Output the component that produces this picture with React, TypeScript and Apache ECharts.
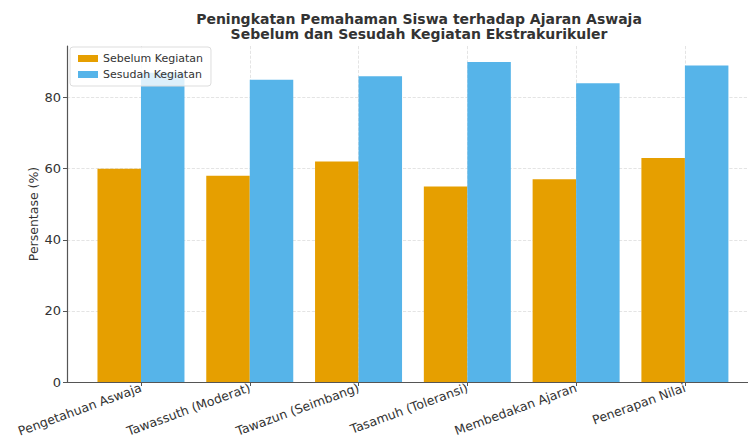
import React, { useEffect, useRef } from "react";
import * as echarts from "echarts";

const categories = [
  "Pengetahuan Aswaja",
  "Tawassuth (Moderat)",
  "Tawazun (Seimbang)",
  "Tasamuh (Toleransi)",
  "Membedakan Ajaran",
  "Penerapan Nilai",
];
const sebelum = [60, 58, 62, 55, 57, 63];
const sesudah = [87, 85, 86, 90, 84, 89];
const yTicks = [0, 20, 40, 60, 80];

const FONT = "DejaVu Sans";

export default function App() {
  const ref = useRef<HTMLDivElement>(null);
  useEffect(() => {
    if (!ref.current) return;
    const chart = echarts.init(ref.current, undefined, { renderer: "svg" });
    const idx = categories.map((_, i) => i);
    chart.setOption({
      animation: false,
      textStyle: { fontFamily: FONT },
      title: {
        text: "Peningkatan Pemahaman Siswa terhadap Ajaran Aswaja\nSebelum dan Sesudah Kegiatan Ekstrakurikuler",
        left: 414,
        top: 6,
        textAlign: "center",
        textStyle: { fontFamily: FONT, fontSize: 14, fontWeight: "bold", color: "#333", lineHeight: 15 },
      },
      legend: {
        orient: "vertical",
        left: 70,
        top: 47,
        padding: [6, 8],
        itemGap: 5,
        itemWidth: 20,
        itemHeight: 7,
        backgroundColor: "rgba(255,255,255,0.8)",
        borderColor: "#ddd",
        borderWidth: 1,
        borderRadius: 3,
        textStyle: { fontFamily: FONT, fontSize: 11, color: "#333" },
        data: [
          { name: "Sebelum Kegiatan", icon: "rect" },
          { name: "Sesudah Kegiatan", icon: "rect" },
        ],
      },
      grid: { left: 67, top: 46, bottom: 56, right: 0, containLabel: false, outerBoundsMode: "none" },
      xAxis: {
        type: "value",
        min: -0.68,
        max: 5.58,
        axisLine: { show: true, onZero: false, lineStyle: { color: "#555", width: 1.2 } },
        axisTick: { show: true, customValues: idx, length: 4, lineStyle: { color: "#555" } },
        axisLabel: {
          customValues: idx,
          rotate: 20,
          margin: 5,
          fontFamily: FONT,
          fontSize: 12.5,
          color: "#333",
          formatter: (v: number) => categories[Math.round(v)] ?? "",
        },
        splitLine: { show: true, lineStyle: { color: "#ddd", type: "dashed", width: 0.8 } },
      },
      yAxis: {
        type: "value",
        min: 0,
        max: 94.5,
        interval: 20,
        name: "Persentase (%)",
        nameLocation: "middle",
        nameGap: 27,
        nameMoveOverlap: false,
        nameRotate: 90,
        nameTextStyle: { fontFamily: FONT, fontSize: 12.5, color: "#333" },
        axisLine: { show: true, onZero: false, lineStyle: { color: "#555", width: 1.2 } },
        axisTick: { show: true, customValues: yTicks, length: 4, lineStyle: { color: "#555" } },
        axisLabel: { customValues: yTicks, fontFamily: FONT, fontSize: 13, color: "#333", margin: 6 },
        splitLine: { show: true, lineStyle: { color: "#ddd", type: "dashed", width: 0.8 } },
      },
      series: [
        {
          name: "Sebelum Kegiatan",
          type: "bar",
          barWidth: 43.5,
          barGap: "0%",
          itemStyle: { color: "#E69F00" },
          data: sebelum.map((v, i) => [i, v]),
        },
        {
          name: "Sesudah Kegiatan",
          type: "bar",
          barWidth: 43.5,
          barGap: "0%",
          itemStyle: { color: "#56B4E9" },
          data: sesudah.map((v, i) => [i, v]),
        },
      ],
    });
    return () => chart.dispose();
  }, []);
  return <div ref={ref} style={{ width: 748, height: 438, position: "absolute", left: 0, top: 0 }} />;
}
